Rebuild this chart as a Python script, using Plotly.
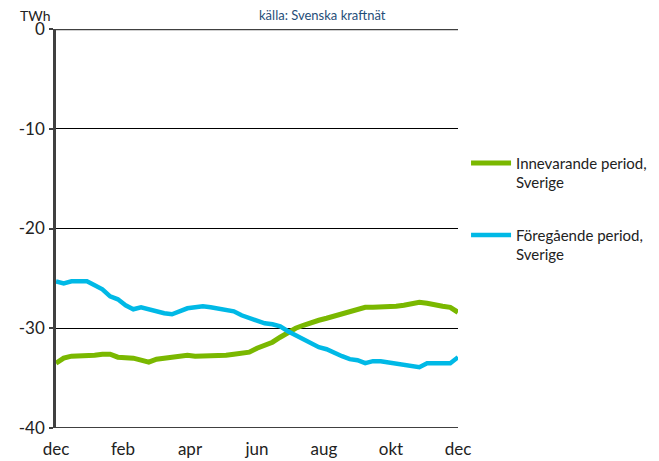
import plotly.graph_objects as go

# weekly samples, dec -> dec (53 points)
weeks = list(range(53))
innevarande = [-33.5, -33.0, -32.8, -32.8, -32.8, -32.7, -32.6, -32.6, -32.9, -32.9,
               -33.0, -33.2, -33.4, -33.1, -33.0, -32.9, -32.8, -32.7, -32.8, -32.8,
               -32.7, -32.8, -32.7, -32.6, -32.5, -32.4, -32.0, -31.7, -31.4, -30.9,
               -30.4, -30.0, -29.7, -29.4, -29.2, -29.0, -28.8, -28.5, -28.3, -28.1,
               -27.9, -27.9, -27.9, -27.8, -27.8, -27.7, -27.5, -27.4, -27.5, -27.7,
               -27.8, -27.9, -28.4]
foregaende = [-25.3, -25.5, -25.3, -25.3, -25.3, -25.7, -26.1, -26.8, -27.1, -27.7,
              -28.1, -27.9, -28.1, -28.4, -28.5, -28.6, -28.3, -28.0, -27.9, -27.8,
              -27.9, -28.0, -28.2, -28.3, -28.7, -29.0, -29.3, -29.5, -29.6, -29.8,
              -30.3, -30.7, -31.1, -31.5, -31.9, -32.1, -32.5, -32.8, -33.1, -33.2,
              -33.5, -33.3, -33.3, -33.4, -33.5, -33.6, -33.8, -33.9, -33.5, -33.5,
              -33.6, -33.5, -32.9]
month_ticks = [0, 52/6, 2*52/6, 3*52/6, 4*52/6, 5*52/6, 52]
month_labels = ["dec", "feb", "apr", "jun", "aug", "okt", "dec"]
y_ticks = [0, -10, -20, -30, -40]
y_labels = ["0", "-10", "-20", "-30", "-40"]

FONT = "Lato"

fig = go.Figure()
fig.add_trace(go.Scatter(x=weeks, y=innevarande, mode="lines",
                         name="Innevarande period,<br>Sverige", legendgroup="a",
                         line=dict(color="#7AB800", width=5)))
fig.add_trace(go.Scatter(x=weeks, y=foregaende, mode="lines",
                         name="Föregående period,<br>Sverige", legendgroup="b",
                         line=dict(color="#00B9E6", width=4.5)))

# page body has an 8px margin, so the figure is 8px smaller than the window
fig.update_layout(
    width=651, height=453,
    margin=dict(l=48, r=201, t=21, b=33, autoexpand=False),
    paper_bgcolor="white", plot_bgcolor="white",
    font=dict(family=FONT, size=16, color="#222222"),
    showlegend=True,
    legend=dict(x=1.02, y=0.705, xanchor="left", yanchor="top",
                font=dict(family=FONT, size=15, color="#222222"),
                valign="top", tracegroupgap=30, itemwidth=40,
                bgcolor="rgba(0,0,0,0)"),
    xaxis=dict(range=[0, 52], tickvals=month_ticks, ticktext=month_labels,
               showgrid=False, zeroline=False, showline=False, automargin=False,
               ticks="outside", ticklen=6, tickcolor="rgba(0,0,0,0)",
               tickfont=dict(size=17)),
    yaxis=dict(range=[-40, 0], tickvals=y_ticks, ticktext=y_labels, showgrid=True,
               gridcolor="#000000", gridwidth=1, zeroline=False, automargin=False,
               showline=True, linecolor="#404040", linewidth=2.5,
               ticks="outside", ticklen=4, tickcolor="#404040", tickwidth=2,
               ticklabelstandoff=1, tickfont=dict(size=17)),
    annotations=[
        dict(text="TWh", xref="paper", yref="paper", x=-0.0945, y=1.034,
             xanchor="left", yanchor="middle", showarrow=False,
             font=dict(family=FONT, size=14, color="#222222")),
        dict(text="källa: Svenska kraftnät", xref="paper", yref="paper",
             x=0.662, y=1.036, xanchor="center", yanchor="middle", showarrow=False,
             font=dict(family=FONT, size=13, color="#1F4E79")),
    ],
)
fig.add_hline(y=0, line=dict(color="#404040", width=2.5))
fig.add_hline(y=-40, line=dict(color="#404040", width=2))

fig.write_html("out.html")
